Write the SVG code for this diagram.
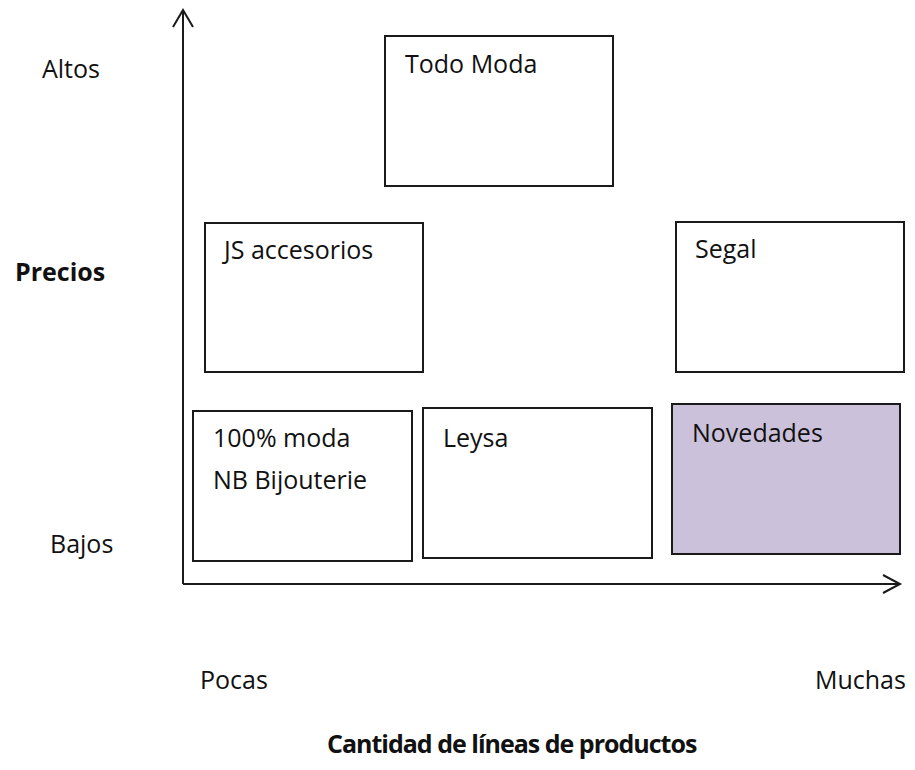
<svg xmlns="http://www.w3.org/2000/svg" width="915" height="770" viewBox="0 0 915 770">
<style>
text{font-family:"Open Sans","Noto Sans","DejaVu Sans",sans-serif;font-size:25px;fill:#111}
.b{font-weight:bold}
.box{fill:#fff;stroke:#1a1a1a;stroke-width:2}
.ax{fill:none;stroke:#1a1a1a;stroke-width:2}
</style>
<rect width="915" height="770" fill="#fff"/>
<g id="connectors">
<line class="ax" x1="183" y1="10" x2="183" y2="584"/>
<polyline class="ax" points="173,27 183,10 193,27"/>
<line class="ax" x1="183" y1="584" x2="899" y2="584"/>
<polyline class="ax" points="883,575 900,584 883,593"/>
</g>
<g id="labels">
<text x="42" y="78">Altos</text>
<text class="b" x="15" y="281">Precios</text>
<text x="50" y="553">Bajos</text>
<text x="200" y="689">Pocas</text>
<text x="815" y="689">Muchas</text>
<text class="b" x="327" y="753" style="letter-spacing:-1px">Cantidad de líneas de productos</text>
</g>
<g id="todo-moda">
<rect class="box" x="385" y="36" width="228" height="150"/>
<text x="405" y="73">Todo Moda</text>
</g>
<g id="js-accesorios">
<rect class="box" x="205" y="223" width="218" height="149"/>
<text x="224" y="259">JS accesorios</text>
</g>
<g id="segal">
<rect class="box" x="676" y="222" width="228" height="150"/>
<text x="695" y="258">Segal</text>
</g>
<g id="moda-nb">
<rect class="box" x="193" y="411" width="219" height="150"/>
<text x="213" y="447">100% moda</text>
<text x="213" y="489">NB Bijouterie</text>
</g>
<g id="leysa">
<rect class="box" x="423" y="408" width="229" height="150"/>
<text x="443" y="447">Leysa</text>
</g>
<g id="novedades">
<rect class="box" x="672" y="404" width="228" height="150" style="fill:#ccc1da"/>
<text x="692" y="442">Novedades</text>
</g>
</svg>
